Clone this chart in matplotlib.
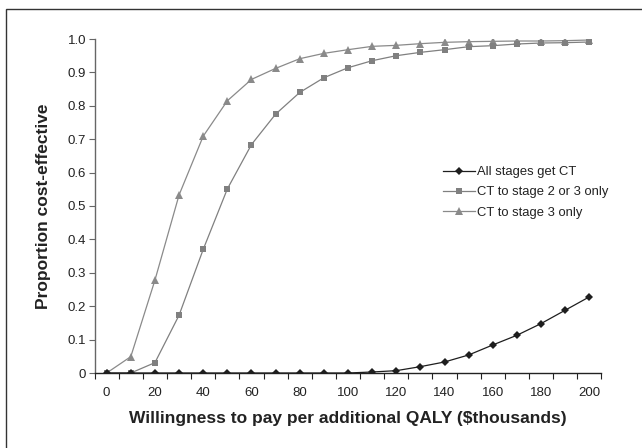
import matplotlib
matplotlib.use("Agg")
import matplotlib.pyplot as plt
from matplotlib.patches import Rectangle
import numpy as np

plt.rcParams['font.family'] = ['Liberation Sans', 'DejaVu Sans']

# Willingness to pay ($thousands), one category per 10
wtp = [0, 10, 20, 30, 40, 50, 60, 70, 80, 90, 100,
       110, 120, 130, 140, 150, 160, 170, 180, 190, 200]

all_stages = [0, 0, 0, 0, 0, 0, 0, 0, 0, 0, 0,
              0.003, 0.007, 0.019, 0.033, 0.054, 0.084, 0.113, 0.148, 0.188, 0.228]
stage_2_or_3 = [0, 0, 0.031, 0.173, 0.370, 0.551, 0.684, 0.775, 0.840, 0.884, 0.914,
                0.935, 0.950, 0.960, 0.968, 0.977, 0.980, 0.985, 0.988, 0.989, 0.991]
stage_3 = [0, 0.049, 0.278, 0.533, 0.709, 0.815, 0.879, 0.912, 0.941, 0.957, 0.968,
           0.978, 0.981, 0.986, 0.990, 0.992, 0.993, 0.994, 0.994, 0.995, 0.997]

series_labels = ['All stages get CT', 'CT to stage 2 or 3 only', 'CT to stage 3 only']
y_ticks = [0, 0.1, 0.2, 0.3, 0.4, 0.5, 0.6, 0.7, 0.8, 0.9, 1.0]
y_tick_labels = ['0', '0.1', '0.2', '0.3', '0.4', '0.5', '0.6', '0.7', '0.8', '0.9', '1.0']

fig = plt.figure(figsize=(6.42, 4.48), dpi=100)
W, H = 642, 448
ax = fig.add_axes([94.6 / W, 1 - 373 / H, (601.4 - 94.6) / W, (373 - 39) / H])

# outer chart frame (cut off at right and bottom as in the source)
fig.patches.append(Rectangle((6 / W, -0.1), 1.2, 1 - 9 / H + 0.1,
                             transform=fig.transFigure, fill=False,
                             edgecolor='#333333', linewidth=1.0))

pos = np.arange(len(wtp))
ax.plot(pos, stage_3, color='#8a8a8a', linewidth=0.9, marker='^', markersize=5.5,
        markeredgewidth=0, label=series_labels[2], zorder=3)
ax.plot(pos, stage_2_or_3, color='#808080', linewidth=0.9, marker='s', markersize=4.2,
        markeredgewidth=0, label=series_labels[1], zorder=3)
ax.plot(pos, all_stages, color='#1e1e1e', linewidth=0.9, marker='D', markersize=3.8,
        markeredgewidth=0, label=series_labels[0], zorder=4)

ax.set_xlim(-0.5, len(wtp) - 0.5)
ax.set_ylim(0, 1.0)

# category axis: ticks between categories, labels on every other category
ax.set_xticks(np.arange(len(wtp) + 1) - 0.5)
ax.set_xticklabels([])
ax.set_xticks(pos[::2], [str(v) for v in wtp[::2]], minor=True)
ax.tick_params(axis='x', which='major', length=4, width=0.8, direction='out', color='#222222')
ax.tick_params(axis='x', which='minor', length=0, pad=10, labelsize=9.5, labelcolor='#222222')

ax.set_yticks(y_ticks, y_tick_labels)
ax.tick_params(axis='y', length=4, width=0.8, direction='out', pad=2,
               labelsize=9.5, labelcolor='#222222', color='#666666')

for s in ['top', 'right']:
    ax.spines[s].set_visible(False)
ax.spines['left'].set_color('#666666')
ax.spines['left'].set_linewidth(1.0)
ax.spines['bottom'].set_color('#222222')
ax.spines['bottom'].set_linewidth(1.0)

ax.set_xlabel('Willingness to pay per additional QALY ($thousands)',
              fontsize=12.5, fontweight='bold', color='#222222', labelpad=9)
ax.set_ylabel('Proportion cost-effective', fontsize=12.5, fontweight='bold',
              color='#222222', labelpad=12)

handles, labels = ax.get_legend_handles_labels()
ax.legend(handles[::-1], labels[::-1], loc='upper left', bbox_to_anchor=(0.665, 0.655),
          frameon=False, fontsize=9.4, handlelength=2.4, handletextpad=0.2,
          labelspacing=0.62, labelcolor='#222222')

fig.savefig('out.png', dpi=100)
